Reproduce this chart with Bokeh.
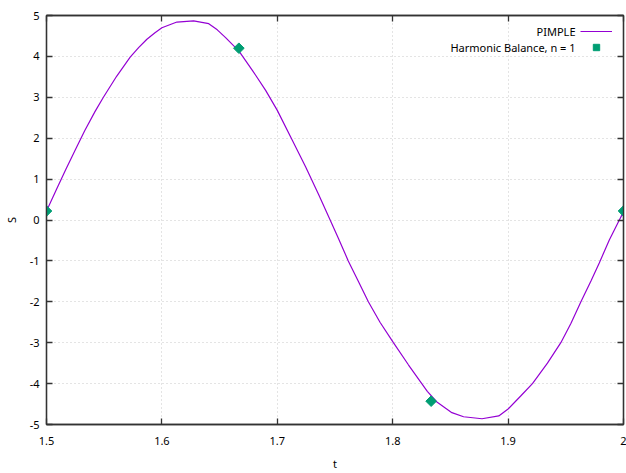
import math
from bokeh.plotting import figure
from bokeh.models import (Range1d, FixedTicker, LinearAxis, Legend, LegendItem, Label,
                          CustomJSTickFormatter)
from bokeh.embed import file_html
from bokeh.resources import INLINE

# PIMPLE curve
pimple_t = [1.5000, 1.5087, 1.5166, 1.5250, 1.5332, 1.5420, 1.5493, 1.5609, 1.5725,
            1.5800, 1.5870, 1.5940, 1.6000, 1.6130, 1.6275, 1.6406, 1.6480, 1.6552,
            1.6668, 1.6784, 1.6899, 1.7000, 1.7130, 1.7245, 1.7360, 1.7455, 1.7530,
            1.7615, 1.7702, 1.7789, 1.7890, 1.8006, 1.8136, 1.8252, 1.8300, 1.8383,
            1.8513, 1.8614, 1.8774, 1.8919, 1.9000, 1.9107, 1.9211, 1.9341, 1.9457,
            1.9544, 1.9631, 1.9718, 1.9790, 1.9877, 1.9964, 2.0000]
pimple_s = [0.22, 0.75, 1.23, 1.72, 2.19, 2.65, 3.00, 3.52, 3.98,
            4.22, 4.42, 4.58, 4.70, 4.84, 4.87, 4.80, 4.65, 4.46,
            4.13, 3.66, 3.17, 2.68, 1.95, 1.30, 0.61, 0.02, -0.45,
            -1.00, -1.50, -2.00, -2.50, -3.00, -3.54, -4.00, -4.19, -4.45,
            -4.71, -4.81, -4.86, -4.79, -4.62, -4.31, -4.00, -3.50, -3.00,
            -2.53, -2.00, -1.49, -1.05, -0.49, 0.00, 0.20]

# Harmonic Balance, n = 1
hb_t = [1.5, 1.6667, 1.8333, 2.0]
hb_s = [0.22, 4.20, -4.43, 0.22]

x_ticks = [1.5, 1.6, 1.7, 1.8, 1.9, 2.0]
x_tick_labels = ["1.5", "1.6", "1.7", "1.8", "1.9", "2"]
y_ticks = [-5, -4, -3, -2, -1, 0, 1, 2, 3, 4, 5]
y_tick_labels = ["-5", "-4", "-3", "-2", "-1", "0", "1", "2", "3", "4", "5"]

FONT = "Noto Sans"
FS = "11px"
DARK = "#333333"

p = figure(frame_width=577, frame_height=409, output_backend="svg", toolbar_location=None,
           x_range=Range1d(1.5, 2.0), y_range=Range1d(-5, 5),
           min_border_left=46, min_border_right=3, min_border_top=15, min_border_bottom=49,
           background_fill_color="white", border_fill_color="white")
p.outline_line_color = DARK
p.outline_line_width = 1.3

line = p.line(pimple_t, pimple_s, line_color="#9400d3", line_width=1.2)
pts = p.scatter(hb_t, hb_s, marker="square", angle=math.pi / 4, size=7.5,
                fill_color="#009e73", line_color="#009e73")

xt = FixedTicker(ticks=x_ticks)
yt = FixedTicker(ticks=y_ticks)

def style_axis(ax):
    ax.major_tick_in = 6
    ax.major_tick_out = 0
    ax.minor_tick_line_color = None
    ax.major_tick_line_color = DARK
    ax.major_tick_line_width = 1.3
    ax.axis_line_color = DARK
    ax.axis_line_width = 1.3
    ax.major_label_text_font = FONT
    ax.major_label_text_font_size = FS
    ax.major_label_text_color = "black"
    ax.axis_label_text_font = FONT
    ax.axis_label_text_font_size = FS
    ax.axis_label_text_font_style = "normal"
    ax.axis_label_text_color = "black"

xa = p.xaxis[0]
xa.ticker = xt
xa.major_label_overrides = {v: s for v, s in zip(x_ticks, x_tick_labels)}
xa.axis_label = "t"
style_axis(xa)
xa.major_label_standoff = 12
xa.axis_label_standoff = 8

ya = p.yaxis[0]
ya.ticker = yt
ya.major_label_overrides = {v: s for v, s in zip(y_ticks, y_tick_labels)}
ya.axis_label = "S"
style_axis(ya)
ya.major_label_standoff = 7
ya.axis_label_standoff = 8

blank = CustomJSTickFormatter(code="return '';")
top = LinearAxis(ticker=FixedTicker(ticks=x_ticks), formatter=blank)
style_axis(top)
top.major_label_standoff = 0
p.add_layout(top, "above")
right = LinearAxis(ticker=FixedTicker(ticks=y_ticks), formatter=blank)
style_axis(right)
right.major_label_standoff = 0
p.add_layout(right, "right")

p.xgrid[0].ticker = xt
p.ygrid[0].ticker = yt
for g in (p.xgrid[0], p.ygrid[0]):
    g.grid_line_color = "#c8c8c8"
    g.grid_line_dash = "1 3"
    g.grid_line_width = 1

legend = Legend(items=[LegendItem(label=" ", renderers=[line]),
                       LegendItem(label=" ", renderers=[pts])],
                location=(534, 369), glyph_width=32, glyph_height=16, spacing=0,
                padding=0, margin=0, label_standoff=0, label_width=0,
                label_text_font_size=FS, background_fill_alpha=0, border_line_alpha=0)
p.add_layout(legend)

for txt, yy in [("PIMPLE", 393), ("Harmonic Balance, n = 1", 377)]:
    p.add_layout(Label(x=529, y=yy, x_units="screen", y_units="screen", text=txt,
                       text_align="right", text_baseline="middle", text_font=FONT,
                       text_font_size=FS, text_color="black"))

open("out.html", "w").write(file_html(p, INLINE))
